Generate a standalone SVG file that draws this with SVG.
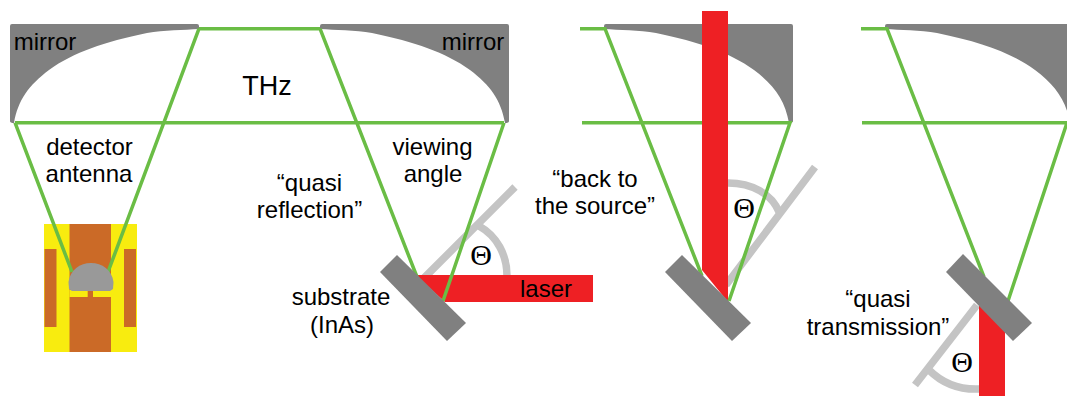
<svg xmlns="http://www.w3.org/2000/svg" width="1067" height="396" viewBox="0 0 1067 396">
<style>
text{font-family:"Liberation Sans",Arial,sans-serif;font-size:24px;fill:#000;text-anchor:middle}
.g{fill:none;stroke:#6abd45;stroke-width:3.5}
.m{fill:#808080}
.s{fill:#808080}
.r{fill:#ee2024}
.a{fill:none;stroke:#c4c4c4;stroke-width:7.500}
.o{fill:#cb6a27}
.t{font-family:"Liberation Serif",serif;font-size:30px}
</style>
<defs>
<path id="mr" d="M320,29 L320,26 Q320,24 322,24 L507,24 Q509,24 509,26 L509,121 Q509,123 505,123 C501,100 490,85 470,70 C445,52 415,42 372,33 C355,30 335,30 320,29 Z"/>
</defs>
<g id="mirror-left" class="m"><use href="#mr" transform="translate(519,0) scale(-1,1)"/><text x="45" y="50">mirror</text></g>
<g id="mirror-right" class="m"><use href="#mr"/><text x="473" y="50">mirror</text></g>
<g id="mirror-2" class="m"><use href="#mr" transform="translate(284,0)"/></g>
<g id="mirror-3" class="m"><use href="#mr" transform="translate(565,0)"/></g>
<g id="antenna">
<rect x="44" y="224" width="93" height="128" fill="#f8ec0f"/>
<rect class="o" x="69.500" y="224" width="41.500" height="128"/>
<rect x="69.500" y="290" width="41.500" height="7" fill="#f8ec0f"/>
<rect class="o" x="87.700" y="288" width="5.300" height="10"/>
<rect class="o" x="44.500" y="249" width="12" height="78"/>
<rect class="o" x="124" y="249" width="12" height="78"/>
</g>
<g id="angle-1"><path class="a" d="M424,278L515,187M479,226C497,236 507,255 507,276"/><text class="t" x="481" y="265">Θ</text></g>
<g id="laser-1"><path class="r" d="M415,275H593V302H445Z"/><text x="546" y="297">laser</text></g>
<g id="angle-2"><path class="a" d="M726,285L815,167M728,183C752,183 772,194 779,212"/><text class="t" x="744" y="218">Θ</text></g>
<g id="laser-2"><path class="r" d="M702,11H728V302L702,270Z"/></g>
<g id="angle-3"><path class="a" d="M977,305L915,385M929,370C943,384 960,390 980,389"/><text class="t" x="962" y="372">Θ</text></g>
<g id="laser-3"><path class="r" d="M979,300L1005,330V396H979Z"/></g>
<g id="connectors">
<path class="g" d="M199,28.700H320M199,28.700L108,272M15,122.700L72,272M15,122.700H504M320,28.700L417,277M504,122.700L443,301"/>
<path class="g" d="M580,28.700H605L702,276M582,122.700H702M728,122.700H790L729,301"/>
<path class="g" d="M861,28.700H887L984,277M862,122.700H1067L1008,301"/>
</g>
<g id="detector"><path d="M72,291 L69,289 L68.500,282 C70,270 80,263 91,263 C102,263 112,270 113.500,282 L113,289 L110,291 Z" fill="#999"/></g>
<g id="substrate-1"><path class="s" d="M397,255L466,323L447,341L380,272Z"/></g>
<g id="substrate-2"><path class="s" d="M682,255L751,323L732,341L665,272Z"/></g>
<g id="substrate-3"><path class="s" d="M963,254L1032,323L1013,341L946,272Z"/></g>
<g id="labels">
<text x="267" y="95" style="font-size:27px">THz</text>
<text x="89.500" y="155">detector</text><text x="89" y="182">antenna</text>
<text x="432.500" y="155">viewing</text><text x="433" y="182">angle</text>
<text x="309.500" y="191">“quasi</text><text x="309.500" y="218">reflection”</text>
<text x="595" y="187">“back to</text><text x="595" y="214">the source”</text>
<text x="341" y="305">substrate</text><text x="342" y="333">(InAs)</text>
<text x="878" y="307">“quasi</text><text x="878" y="335">transmission”</text>
</g>
</svg>
